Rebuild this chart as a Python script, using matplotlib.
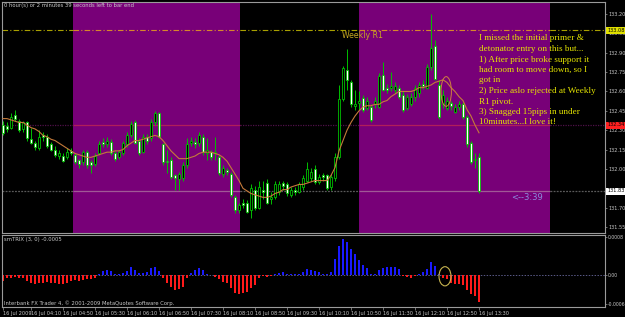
import matplotlib
matplotlib.use("Agg")
import matplotlib.pyplot as plt
from matplotlib.patches import Ellipse

W, H = 625, 317

# EURJPY M5, 16 Jul 2009, bars 03:35 .. 13:30
opens = [132.34, 132.33, 132.32, 132.42, 132.37, 132.31, 132.36, 132.23, 132.20, 132.16,
         132.26, 132.25, 132.19, 132.15, 132.10, 132.10, 132.09, 132.14, 132.11, 132.07,
         132.05, 132.13, 132.05, 132.04, 132.12, 132.21, 132.19, 132.21, 132.12, 132.09,
         132.12, 132.19, 132.26, 132.36, 132.22, 132.13, 132.25, 132.24, 132.36, 132.43,
         132.19, 132.06, 132.07, 131.95, 131.92, 131.93, 132.03, 132.20, 132.21, 132.20,
         132.25, 132.12, 132.13, 132.12, 132.09, 131.96, 131.99, 131.96, 131.78, 131.68,
         131.74, 131.74, 131.68, 131.84, 131.70, 131.84, 131.89, 131.77, 131.78, 131.82,
         131.89, 131.88, 131.80, 131.84, 131.82, 131.86, 131.91, 131.93, 132.00, 131.90,
         131.95, 131.95, 131.86, 131.93, 132.09, 132.54, 132.77, 132.67, 132.49, 132.51,
         132.55, 132.47, 132.48, 132.50, 132.48, 132.73, 132.63, 132.63, 132.61, 132.63,
         132.57, 132.47, 132.50, 132.56, 132.59, 132.66, 132.63, 132.79, 132.95, 132.65,
         132.50, 132.47, 132.51, 132.44, 132.48, 132.50, 132.40, 132.20, 132.07, 132.09]
highs = [132.37, 132.36, 132.43, 132.46, 132.39, 132.37, 132.37, 132.32, 132.22, 132.30,
         132.29, 132.27, 132.21, 132.18, 132.15, 132.12, 132.16, 132.16, 132.12, 132.08,
         132.15, 132.15, 132.07, 132.12, 132.22, 132.24, 132.25, 132.23, 132.14, 132.15,
         132.22, 132.29, 132.37, 132.38, 132.24, 132.27, 132.27, 132.39, 132.45, 132.44,
         132.20, 132.15, 132.09, 131.96, 131.98, 132.05, 132.24, 132.25, 132.24, 132.29,
         132.27, 132.24, 132.15, 132.25, 132.11, 132.03, 132.01, 131.98, 131.80, 131.74,
         131.77, 131.76, 131.88, 131.87, 131.91, 131.91, 131.92, 131.82, 131.91, 131.91,
         131.91, 131.90, 131.86, 131.86, 131.90, 131.95, 132.05, 132.01, 132.03, 131.96,
         131.97, 131.96, 131.96, 132.12, 132.65, 132.80, 132.93, 132.69, 132.61, 132.60,
         132.57, 132.56, 132.50, 132.56, 132.74, 132.83, 132.66, 132.75, 132.67, 132.65,
         132.60, 132.58, 132.59, 132.65, 132.67, 132.69, 132.81, 133.20, 133.00, 132.69,
         132.61, 132.56, 132.53, 132.50, 132.53, 132.52, 132.42, 132.22, 132.12, 132.12]
lows = [132.26, 132.29, 132.31, 132.37, 132.29, 132.29, 132.22, 132.19, 132.15, 132.15,
        132.22, 132.16, 132.14, 132.09, 132.08, 132.05, 132.08, 132.11, 132.04, 132.01,
        132.03, 132.01, 131.97, 132.02, 132.11, 132.17, 132.17, 132.11, 132.06, 132.08,
        132.11, 132.17, 132.25, 132.19, 132.11, 132.12, 132.19, 132.22, 132.34, 132.24,
        132.03, 131.97, 131.92, 131.84, 131.84, 131.91, 132.01, 132.18, 132.16, 132.18,
        132.11, 132.07, 132.07, 132.07, 131.95, 131.94, 131.95, 131.78, 131.66, 131.66,
        131.70, 131.66, 131.62, 131.68, 131.69, 131.77, 131.73, 131.73, 131.77, 131.80,
        131.84, 131.79, 131.78, 131.80, 131.81, 131.84, 131.90, 131.91, 131.88, 131.88,
        131.91, 131.84, 131.84, 131.91, 132.08, 132.53, 132.61, 132.48, 132.46, 132.46,
        132.44, 132.46, 132.36, 132.47, 132.47, 132.60, 132.59, 132.60, 132.59, 132.54,
        132.44, 132.46, 132.49, 132.53, 132.56, 132.62, 132.62, 132.77, 132.69, 132.39,
        132.47, 132.46, 132.46, 132.43, 132.46, 132.39, 132.17, 132.04, 132.01, 131.81]
closes = [132.28, 132.31, 132.40, 132.39, 132.30, 132.36, 132.24, 132.20, 132.17, 132.25,
          132.25, 132.18, 132.15, 132.11, 132.12, 132.06, 132.13, 132.12, 132.05, 132.04,
          132.13, 132.03, 132.03, 132.10, 132.19, 132.19, 132.22, 132.12, 132.08, 132.13,
          132.20, 132.26, 132.35, 132.20, 132.12, 132.25, 132.22, 132.36, 132.43, 132.25,
          132.05, 132.05, 131.94, 131.93, 131.96, 132.03, 132.19, 132.22, 132.19, 132.26,
          132.13, 132.15, 132.09, 132.13, 131.97, 132.01, 131.98, 131.80, 131.68, 131.72,
          131.72, 131.67, 131.85, 131.70, 131.86, 131.82, 131.74, 131.78, 131.88, 131.88,
          131.87, 131.81, 131.84, 131.82, 131.88, 131.93, 132.00, 131.98, 131.90, 131.94,
          131.94, 131.85, 131.94, 132.09, 132.54, 132.78, 132.69, 132.50, 132.50, 132.53,
          132.46, 132.53, 132.38, 132.53, 132.72, 132.61, 132.61, 132.64, 132.64, 132.56,
          132.46, 132.56, 132.56, 132.63, 132.65, 132.64, 132.79, 132.94, 132.70, 132.40,
          132.57, 132.53, 132.49, 132.48, 132.50, 132.40, 132.19, 132.05, 132.08, 131.83]
ma = [132.39, 132.39, 132.38, 132.37, 132.36, 132.36, 132.34, 132.32, 132.31, 132.29,
      132.26, 132.25, 132.23, 132.22, 132.20, 132.18, 132.16, 132.14, 132.12, 132.11,
      132.10, 132.09, 132.09, 132.10, 132.11, 132.12, 132.13, 132.13, 132.14, 132.14,
      132.15, 132.18, 132.20, 132.22, 132.22, 132.23, 132.24, 132.25, 132.26, 132.25,
      132.22, 132.18, 132.14, 132.11, 132.08, 132.08, 132.08, 132.09, 132.10, 132.12,
      132.13, 132.13, 132.13, 132.12, 132.11, 132.09, 132.06, 132.01, 131.96, 131.91,
      131.85, 131.83, 131.81, 131.80, 131.79, 131.78, 131.78, 131.79, 131.81, 131.82,
      131.84, 131.84, 131.86, 131.87, 131.88, 131.88, 131.89, 131.90, 131.91, 131.91,
      131.91, 131.91, 131.95, 132.01, 132.14, 132.22, 132.30, 132.36, 132.41, 132.45,
      132.48, 132.49, 132.49, 132.50, 132.50, 132.52, 132.53, 132.56, 132.58, 132.60,
      132.60, 132.60, 132.60, 132.61, 132.63, 132.63, 132.64, 132.65, 132.67, 132.68,
      132.69, 132.67, 132.63, 132.60, 132.56, 132.53, 132.46, 132.41, 132.34, 132.28]
# smTRIX histogram, units of 1e-4
trix = [-1.14, -0.66, -0.46, -0.34, -0.54, -0.66, -1.14, -1.54, -1.8, -1.66,
        -1.54, -1.4, -1.54, -1.66, -1.8, -1.8, -1.54, -1.14, -1.0, -1.14,
        -1.0, -0.86, -0.86, -0.46, 0.34, 1.0, 1.14, 0.8, 0.34, 0.34,
        0.46, 0.86, 1.66, 1.14, 0.46, 0.46, 0.66, 1.54, 1.8, 1.0,
        -0.46, -1.54, -2.34, -3.0, -2.86, -2.34, -0.66, 0.46, 1.14, 1.54,
        1.14, 0.34, 0.06, -0.34, -0.86, -1.34, -1.66, -2.66, -3.66, -3.8,
        -3.66, -3.54, -2.66, -2.0, -0.66, -0.2, -0.34, -0.2, 0.2, 0.46,
        0.66, 0.34, 0.2, 0.34, 0.2, 0.66, 1.34, 1.14, 0.86, 0.66,
        0.34, 0.34, 0.66, 3.34, 6.2, 7.66, 7.0, 5.54, 4.46, 3.14,
        2.2, 1.54, 0.34, 0.2, 1.14, 1.54, 1.8, 1.8, 1.66, 1.34,
        -0.2, -0.34, -0.46, -0.2, 0.34, 0.66, 1.34, 2.8, 2.0, 0.2,
        -0.66, -0.86, -1.54, -1.8, -1.8, -2.0, -3.0, -3.8, -4.34, -5.66]

zones = [(17.5, 59.25), (89, 136.75)]        # purple session boxes (bar units)
weekly_r1 = 133.08
order_level = 132.34
bid = 131.83
price_ticks = [131.55, 131.70, 131.85, 132.00, 132.15, 132.30, 132.45,
               132.60, 132.75, 132.90, 133.05, 133.20]
trix_ticks = [-0.0006, 0.0, 0.0008]
trix_tick_labels = ["-0.0006", "0.00", "0.0008"]
time_pos = [0, 7, 15, 23, 31, 39, 47, 55, 63, 71, 79, 87, 95, 103, 111, 119]
time_labels = ["16 Jul 2009", "16 Jul 04:10", "16 Jul 04:50", "16 Jul 05:30",
               "16 Jul 06:10", "16 Jul 06:50", "16 Jul 07:30", "16 Jul 08:10",
               "16 Jul 08:50", "16 Jul 09:30", "16 Jul 10:10", "16 Jul 10:50",
               "16 Jul 11:30", "16 Jul 12:10", "16 Jul 12:50", "16 Jul 13:30"]
note = ["I missed the initial primer &",
        "detonator entry on this but...",
        "1) After price broke support it",
        "had room to move down, so I",
        "got in",
        "2) Price aslo rejected at Weekly",
        "R1 pivot.",
        "3) Snagged 15pips in under",
        "10minutes...I love it!"]
# drawn ellipses: (bar, value, width in bars, height)
price_circle = (110.8, 132.60, 2.6, 0.23)
trix_circle = (110.5, -0.00002, 3.0, 0.0004)

PURPLE = "#780078"
GREEN = "#00c000"
GREY = "#c8c8c8"
TINY = ["Liberation Sans Narrow", "DejaVu Sans"]


def fx(px):
    return px / W


def fy(py):
    return 1 - py / H


fig = plt.figure(figsize=(6.25, 3.17), dpi=100, facecolor="black")
ax = fig.add_axes([fx(2), fy(233), 603 / W, 231 / H], facecolor="black")
ax2 = fig.add_axes([fx(2), fy(307), 603 / W, 72 / H], facecolor="black")

xmin, xmax = -0.25, 150.5
for a in (ax, ax2):
    a.set_xlim(xmin, xmax)
    for s in a.spines.values():
        s.set_color("#9a9a9a")
        s.set_linewidth(0.8)
    a.yaxis.tick_right()
    a.tick_params(axis="y", colors="#9a9a9a", labelcolor=GREY, labelsize=3.6,
                  length=1.5, width=0.5, pad=1)
ax2.tick_params(axis="y", labelsize=3.3, pad=0.8)

# session boxes and horizontal lines (look differs inside the boxes)
segments = []
edges = [xmin] + [v for z in zones for v in z] + [xmax]
for k in range(len(edges) - 1):
    segments.append((edges[k], edges[k + 1], k % 2 == 1))

for a, b in zones:
    ax.axvspan(a, b, color=PURPLE, lw=0, zorder=0)

for a, b, inside in segments:
    ax.hlines(weekly_r1, a, b, colors="#d8862a" if inside else "#a8a000",
              lw=0.8, linestyles=(0, (5, 2, 1, 2)), zorder=1)
    ax.hlines(order_level, a, b, colors="#b01e5a" if inside else "#50104a",
              lw=0.9, linestyles="solid" if inside else (0, (1, 1)), zorder=1)
    ax.hlines(bid, a, b, colors="#a05896" if inside else "#5a5a5a",
              lw=0.9, linestyles="solid" if inside else (0, (1.5, 1)), zorder=1)

# candles
x = list(range(len(opens)))
ax.vlines(x, lows, highs, colors=GREEN, lw=0.7, zorder=2)
bottoms = [min(o, c) for o, c in zip(opens, closes)]
heights = [max(abs(c - o), 0.004) for o, c in zip(opens, closes)]
fills = ["white" if c < o else "black" for o, c in zip(opens, closes)]
ax.bar(x, heights, bottom=bottoms, width=0.62, color=fills,
       edgecolor=GREEN, linewidth=0.6, zorder=3)

ax.plot(x, ma, color="#c47a3a", lw=0.8, zorder=4)
ax.add_patch(Ellipse(price_circle[:2], price_circle[2], price_circle[3],
                     fill=False, ec="#d08040", lw=0.7, zorder=5))

ax.set_ylim(131.504, 133.293)
ax.set_yticks(price_ticks)
# the bid label box covers the nearest scale label
ax.set_yticklabels(["" if abs(v - bid) < 0.03 else f"{v:.2f}" for v in price_ticks],
                   family=TINY)
ax.set_xticks([])

# indicator pane
ax2.bar(x, [v * 1e-4 for v in trix], width=0.62,
        color=["#1a1aff" if v > 0 else "#ff1a1a" for v in trix], lw=0)
ax2.axhline(0, color="#5a5a88", lw=0.7, ls=(0, (1.5, 1.5)), zorder=0)
ax2.add_patch(Ellipse(trix_circle[:2], trix_circle[2], trix_circle[3],
                      fill=False, ec="#c8b450", lw=0.8, zorder=5))
ax2.set_ylim(-0.00066, 0.00084)
ax2.set_yticks(trix_ticks)
ax2.set_yticklabels(trix_tick_labels, family=TINY)
ax2.set_xticks(time_pos)
ax2.set_xticklabels(time_labels, ha="left", family=TINY)
ax2.tick_params(axis="x", colors="#9a9a9a", labelcolor=GREY, labelsize=3.6,
                length=2, width=0.5, pad=1)

# texts
small = dict(fontsize=3.8, color=GREY, va="center", family=TINY)
fig.text(fx(4), fy(5), "0 hour(s) or 2 minutes 39 seconds left to bar end", **small)
fig.text(fx(4), fy(240), "smTRIX (3, 0) -0.0005", **small)
fig.text(fx(4), fy(303), "Interbank FX Trader 4, \u00a9 2001-2009 MetaQuotes Software Corp.", **small)

fig.text(fx(342), fy(35), "Weekly R1", fontsize=5.6, color="#c8a820", va="center")
fig.text(fx(511), fy(197), "<--3:39", fontsize=6, color="#8c8cdc", va="center")

for k, line in enumerate(note):
    fig.text(fx(479), fy(38.5 + 10.5 * k), line, fontsize=6.6, color="#e6e600",
             family="Liberation Serif", va="center")

box = dict(boxstyle="square,pad=0.2", ec="none")
fig.text(fx(607), fy(30), f"{weekly_r1:.2f}", fontsize=3.6, color="black", va="center",
         family=TINY, bbox=dict(box, fc="#e0e000"))
fig.text(fx(607), fy(125), f"{order_level:.2f}", fontsize=3.6, color="black", va="center",
         family=TINY, bbox=dict(box, fc="#ff2020"))
fig.text(fx(607), fy(191), f"{bid:.2f}", fontsize=3.6, color="black", va="center",
         family=TINY, bbox=dict(box, fc="white"))

fig.savefig("out.png", dpi=100, facecolor="black")
